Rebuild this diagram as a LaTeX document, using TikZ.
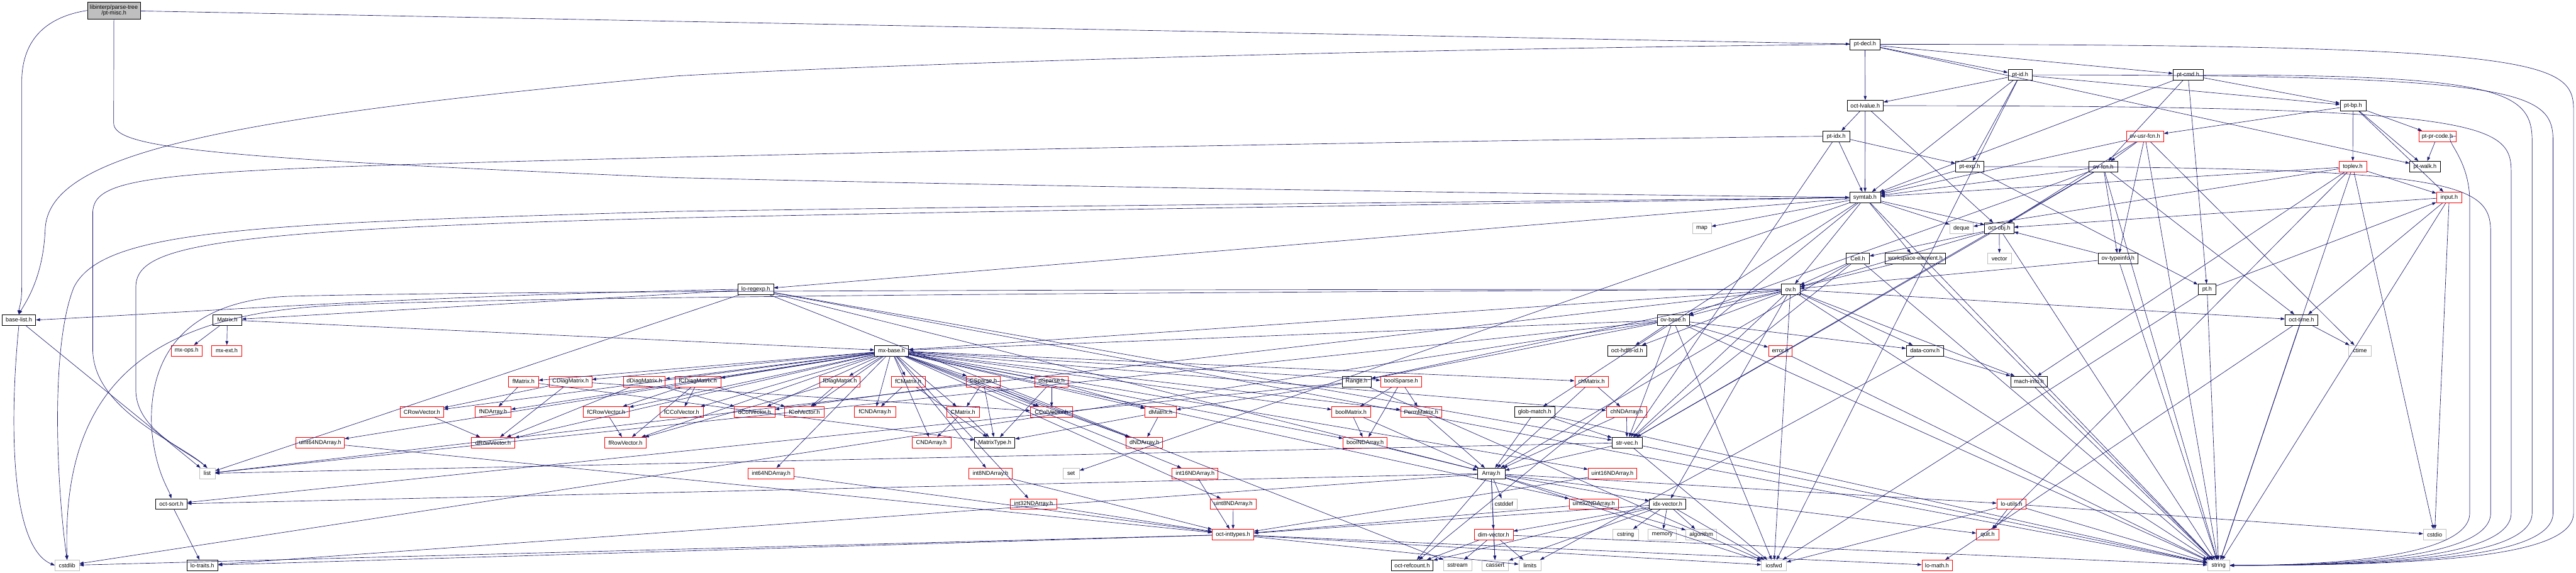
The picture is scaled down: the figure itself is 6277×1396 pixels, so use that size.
\documentclass[tikz,border=0pt]{standalone}
\usepackage{fontspec}
\setmainfont{Liberation Sans}
\usetikzlibrary{arrows.meta}
\definecolor{edgec}{RGB}{25,25,112}
\definecolor{extc}{RGB}{191,191,191}
\definecolor{rootfill}{RGB}{191,191,191}
\newcommand\gn[6]{\node[#1, minimum width={(#4-#3)*1pt}] (#2) at ({(#3+#4)/2},#5) {#6};}
\newcommand\lane[3]{\draw[edge] (#1.east) .. controls ({#2-80},#3) and (#2,{#3+40}) .. (#2,{#3+160}) -- (#2,1250) .. controls (#2,1350) and ({#2-300},1377.5) .. (string.east);}
\begin{document}
\begin{tikzpicture}[x=1pt,y=-1pt,
  base/.style={draw, inner sep=0pt, minimum height=26pt, line width=1pt, font=\fontsize{14}{15}\selectfont, align=center},
  blk/.style={base, draw=black},
  red/.style={base, draw=red},
  ext/.style={base, draw=extc},
  root/.style={base, draw=black, fill=rootfill, minimum height=41pt},
  edge/.style={draw=edgec, line width=1pt, -{Triangle[length=10pt,width=7pt]}}]
\useasboundingbox (0,0) rectangle (6277,1396);
% rank 0
\gn{root}{root}{213}{342}{25.5}{libinterp/parse-tree\\/pt-misc.h}
% rank 1-7
\gn{blk}{ptdecl}{4508}{4581}{108}{pt-decl.h}
\gn{blk}{ptid}{4893}{4952}{182.5}{pt-id.h}
\gn{blk}{ptcmd}{5295}{5368}{182.5}{pt-cmd.h}
\gn{blk}{octlvalue}{4501}{4589}{257.5}{oct-lvalue.h}
\gn{blk}{ptbp}{5702}{5765}{257.5}{pt-bp.h}
\gn{blk}{ptidx}{4442}{4507}{332}{pt-idx.h}
\gn{red}{ovusrfcn}{5181}{5272}{332}{ov-usr-fcn.h}
\gn{red}{ptprcode}{5894}{5984}{332}{pt-pr-code.h}
\gn{blk}{ptexp}{4765}{4834}{406}{pt-exp.h}
\gn{blk}{ovfcn}{5090}{5160}{406}{ov-fcn.h}
\gn{red}{toplev}{5699}{5767}{406}{toplev.h}
\gn{blk}{ptwalk}{5872}{5946}{406}{pt-walk.h}
\gn{blk}{symtab}{4507}{4582}{481}{symtab.h}
\gn{red}{input}{5937}{5999}{481}{input.h}
\gn{ext}{map}{4124}{4170}{556}{map}
\gn{ext}{deque}{4751}{4808}{556}{deque}
\gn{blk}{octobj}{4836}{4907}{556}{oct-obj.h}
% rank 8-11
\gn{blk}{cell}{4499}{4555}{630}{Cell.h}
\gn{blk}{wselem}{4594}{4740}{630}{workspace-element.h}
\gn{ext}{vector}{4843}{4901}{630}{vector}
\gn{blk}{ovtypeinfo}{5112}{5210}{630}{ov-typeinfo.h}
\gn{blk}{loregexp}{1798}{1885}{705}{lo-regexp.h}
\gn{blk}{ov}{4340}{4386}{705}{ov.h}
\gn{blk}{pt}{5356}{5400}{705}{pt.h}
\gn{blk}{baselist}{5}{87}{779.5}{base-list.h}
\gn{blk}{Matrixh}{519}{589}{779.5}{Matrix.h}
\gn{blk}{ovbase}{4038}{4116}{779.5}{ov-base.h}
\gn{blk}{octtime}{5568}{5648}{779.5}{oct-time.h}
\gn{red}{mxops}{417}{492}{854.5}{mx-ops.h}
\gn{red}{mxext}{516}{589}{854.5}{mx-ext.h}
\gn{blk}{mxbase}{2131}{2214}{854.5}{mx-base.h}
\gn{blk}{hdfid}{3918}{4012}{854.5}{oct-hdf5-id.h}
\gn{red}{error}{4309}{4367}{854.5}{error.h}
\gn{blk}{dataconv}{4645}{4736}{854.5}{data-conv.h}
\gn{ext}{ctime}{5723}{5778}{854.5}{ctime}
% rank 12
\gn{red}{fMatrix}{1239}{1312}{929.5}{fMatrix.h}
\gn{red}{CDiag}{1339}{1442}{929.5}{CDiagMatrix.h}
\gn{red}{dDiag}{1519}{1621}{929.5}{dDiagMatrix.h}
\gn{red}{fCDiag}{1645}{1756}{929.5}{fCDiagMatrix.h}
\gn{red}{fDiag}{1997}{2096}{929.5}{fDiagMatrix.h}
\gn{red}{fCMatrix}{2172}{2254}{929.5}{fCMatrix.h}
\gn{red}{CSparse}{2355}{2437}{929.5}{CSparse.h}
\gn{red}{dSparse}{2522}{2603}{929.5}{dSparse.h}
\gn{blk}{Range}{3270}{3341}{929.5}{Range.h}
\gn{red}{boolSparse}{3364}{3464}{929.5}{boolSparse.h}
\gn{red}{chMatrix}{3837}{3919}{929.5}{chMatrix.h}
\gn{blk}{machinfo}{4899}{4989}{929.5}{mach-info.h}
% rank 13
\gn{red}{CRowVec}{975}{1081}{1004}{CRowVector.h}
\gn{red}{fNDArray}{1158}{1245}{1004}{fNDArray.h}
\gn{red}{fCRowVec}{1421}{1533}{1004}{fCRowVector.h}
\gn{red}{fCColVec}{1608}{1714}{1004}{fCColVector.h}
\gn{red}{dColVec}{1789}{1888}{1004}{dColVector.h}
\gn{red}{fColVec}{1912}{2008}{1004}{fColVector.h}
\gn{red}{fCNDArray}{2082}{2182}{1004}{fCNDArray.h}
\gn{red}{CMatrix}{2307}{2386}{1004}{CMatrix.h}
\gn{red}{CColVec}{2511}{2614}{1004}{CColVector.h}
\gn{red}{dMatrix}{2790}{2866}{1004}{dMatrix.h}
\gn{red}{boolMatrix}{3245}{3339}{1004}{boolMatrix.h}
\gn{red}{PermMatrix}{3413}{3513}{1004}{PermMatrix.h}
\gn{blk}{globmatch}{3691}{3788}{1004}{glob-match.h}
\gn{red}{chNDArray}{3914}{4013}{1004}{chNDArray.h}
% rank 14
\gn{red}{uint64}{721}{839}{1078.5}{uint64NDArray.h}
\gn{red}{dRowVec}{1149}{1254}{1078.5}{dRowVector.h}
\gn{red}{fRowVec}{1473}{1575}{1078.5}{fRowVector.h}
\gn{red}{CNDArray}{2222}{2317}{1078.5}{CNDArray.h}
\gn{blk}{MatrixType}{2375}{2473}{1078.5}{MatrixType.h}
\gn{red}{dNDArray}{2744}{2833}{1078.5}{dNDArray.h}
\gn{red}{boolNDArray}{3273}{3380}{1078.5}{boolNDArray.h}
\gn{blk}{strvec}{3928}{4001}{1078.5}{str-vec.h}
% rank 15
\gn{ext}{list}{486}{524}{1153.5}{list}
\gn{red}{int64}{1823}{1935}{1153.5}{int64NDArray.h}
\gn{red}{int8}{2361}{2466}{1153.5}{int8NDArray.h}
\gn{ext}{set}{2590}{2630}{1153.5}{set}
\gn{red}{int16}{2856}{2968}{1153.5}{int16NDArray.h}
\gn{blk}{Array}{3600}{3667}{1153.5}{Array.h}
\gn{red}{uint16}{3870}{3988}{1153.5}{uint16NDArray.h}
% rank 16
\gn{blk}{octsort}{379}{456}{1228}{oct-sort.h}
\gn{red}{int32}{2462}{2575}{1228}{int32NDArray.h}
\gn{red}{uint8}{2949}{3061}{1228}{uint8NDArray.h}
\gn{ext}{cstddef}{3632}{3697}{1228}{cstddef}
\gn{red}{uint32}{3824}{3943}{1228}{uint32NDArray.h}
\gn{blk}{idxvec}{4019}{4108}{1228}{idx-vector.h}
\gn{red}{loutils}{4866}{4937}{1228}{lo-utils.h}
% rank 17
\gn{red}{octint}{2954}{3055}{1302.5}{oct-inttypes.h}
\gn{red}{dimvec}{3592}{3687}{1302.5}{dim-vector.h}
\gn{ext}{cstring}{3930}{3992}{1302.5}{cstring}
\gn{ext}{memory}{4016}{4085}{1302.5}{memory}
\gn{ext}{algorithm}{4108}{4183}{1302.5}{algorithm}
\gn{red}{quit}{4816}{4871}{1302.5}{quit.h}
\gn{ext}{cstdio}{5905}{5960}{1302.5}{cstdio}
% rank 18
\gn{ext}{cstdlib}{134}{193}{1377.5}{cstdlib}
\gn{blk}{lotraits}{455}{531}{1377.5}{lo-traits.h}
\gn{blk}{octref}{3390}{3492}{1377.5}{oct-refcount.h}
\gn{ext}{sstream}{3517}{3586}{1377.5}{sstream}
\gn{ext}{cassert}{3611}{3676}{1377.5}{cassert}
\gn{ext}{limits}{3701}{3755}{1377.5}{limits}
\gn{ext}{iosfwd}{4292}{4353}{1377.5}{iosfwd}
\gn{red}{lomath}{4683}{4757}{1377.5}{lo-math.h}
\gn{ext}{string}{5379}{5433}{1377.5}{string}
% routed edges on the left
\draw[edge] (root.west) .. controls (120,40) and (53,90) .. (53,200) -- (53,700) .. controls (53,740) and (46,750) .. (baselist.north);
\draw[edge] (root.south) -- (277,300) .. controls (277,360) and (500,385) .. (1650,433) .. controls (2700,458) and (3900,474) .. (symtab.west);
\draw[edge] (ptdecl.west) .. controls (3000,125) and (2000,165) .. (1650,185) .. controls (500,290) and (116,380) .. (110,560) .. controls (105,680) and (60,740) .. (baselist.north);
\draw[edge] (loregexp.west) .. controls (1000,720) and (400,765) .. (baselist.east);
\draw[edge] (ptidx.west) .. controls (3000,350) and (2000,375) .. (1650,383) .. controls (400,415) and (226,420) .. (226,520) -- (226,850) .. controls (226,1000) and (440,1080) .. (list.north);
\draw[edge] (symtab.west) .. controls (3900,495) and (2700,507) .. (1650,531) .. controls (500,560) and (331,600) .. (331,700) -- (331,950) .. controls (331,1050) and (460,1100) .. (list.north);
\draw[edge] (symtab.west) .. controls (3900,490) and (2700,499) .. (1650,515) .. controls (600,545) and (250,560) .. (180,700) .. controls (120,850) and (140,1200) .. (cstdlib.north);
\draw[edge] (ov.west) .. controls (3000,705) and (1200,708) .. (700,722) .. controls (420,735) and (360,900) .. (370,1050) .. controls (380,1150) and (410,1190) .. (octsort.north);
\draw[edge] (ov.west) .. controls (3000,712) and (1200,722) .. (800,745) .. controls (350,770) and (150,950) .. (cstdlib.north);
\draw[edge] (baselist.south) .. controls (25,1000) and (20,1330) .. (cstdlib.west);
% right-hand lanes into string
\lane{ptdecl}{6271}{108}
\lane{ptid}{6221}{182.5}
\lane{ptcmd}{6170}{182.5}
\lane{octlvalue}{6119}{257.5}
\lane{ptexp}{6069}{406}
\lane{ptprcode}{6018}{332}
% straight edges
\foreach \a/\b in {root/ptdecl,
 ptdecl/octlvalue, ptdecl/ptcmd, ptdecl/ptid, ptdecl/ptwalk,
 ptid/octlvalue, ptid/ptbp, ptid/ptexp, ptid/symtab, ptid/iosfwd,
 ptcmd/pt, ptcmd/ptbp, ptcmd/symtab, ptcmd/ovfcn,
 octlvalue/octobj, octlvalue/ptidx, octlvalue/symtab,
 ptbp/input, ptbp/ovusrfcn, ptbp/ptwalk, ptbp/ptprcode, ptbp/toplev,
 ptidx/ptexp, ptidx/strvec, ptidx/symtab,
 ptexp/pt, ptexp/symtab,
 ovusrfcn/ctime, ovusrfcn/string, ovusrfcn/octobj, ovusrfcn/ovfcn, ovusrfcn/ovtypeinfo, ovusrfcn/symtab,
 ovfcn/string, ovfcn/octtime, ovfcn/strvec, ovfcn/octobj, ovfcn/ovbase, ovfcn/ovtypeinfo, ovfcn/symtab,
 toplev/cstdio, toplev/deque, toplev/string, toplev/machinfo, toplev/quit, toplev/input, toplev/symtab,
 ptprcode/ptwalk,
 input/cstdio, input/string, input/octtime, input/octobj,
 symtab/deque, symtab/map, symtab/set, symtab/string, symtab/globmatch, symtab/loregexp, symtab/octobj, symtab/wselem, symtab/octref, symtab/ov,
 octobj/string, octobj/vector, octobj/strvec, octobj/cell, octobj/ov,
 cell/string, cell/Array, cell/strvec, cell/ov,
 wselem/string, wselem/ov,
 ovtypeinfo/string, ovtypeinfo/octobj, ovtypeinfo/ov,
 pt/string, pt/iosfwd, pt/input,
 ov/iosfwd, ov/string, ov/Range, ov/dataconv, ov/idxvec, ov/machinfo, ov/mxbase, ov/octtime, ov/strvec, ov/ovbase, ov/hdfid, ov/list,
 ovbase/iosfwd, ovbase/string, ovbase/Range, ovbase/dataconv, ovbase/mxbase, ovbase/strvec, ovbase/error, ovbase/hdfid, ovbase/list, ovbase/cstdlib,
 octtime/ctime, octtime/string, octtime/lomath,
 machinfo/string, dataconv/limits, dataconv/machinfo, error/string,
 loregexp/sstream, loregexp/string, loregexp/Array, loregexp/strvec, loregexp/list, loregexp/Matrixh,
 baselist/list, Matrixh/mxops, Matrixh/mxext, Matrixh/mxbase,
 globmatch/string, globmatch/Array, globmatch/strvec,
 strvec/iosfwd, strvec/string, strvec/Array, strvec/list,
 Range/iosfwd, Range/dMatrix, Range/octsort,
 Array/cassert, Array/cstddef, Array/algorithm, Array/iosfwd, Array/dimvec, Array/idxvec, Array/loutils, Array/quit, Array/octref, Array/octsort, Array/lotraits,
 octsort/lotraits,
 idxvec/cassert, idxvec/cstring, idxvec/algorithm, idxvec/iosfwd, idxvec/memory, idxvec/dimvec, idxvec/octint, idxvec/octref,
 dimvec/cassert, dimvec/limits, dimvec/sstream, dimvec/string, dimvec/octref,
 loutils/cstdio, loutils/iosfwd, loutils/string, loutils/quit,
 octint/limits, octint/iosfwd, octint/lomath, octint/lotraits, octint/cstdlib,
 mxbase/dDiag, mxbase/fCDiag, mxbase/fDiag, mxbase/fCMatrix, mxbase/CSparse, mxbase/dSparse, mxbase/boolSparse, mxbase/chMatrix,
 mxbase/fCColVec, mxbase/dColVec, mxbase/fColVec, mxbase/fCNDArray, mxbase/CMatrix, mxbase/CColVec, mxbase/dMatrix, mxbase/boolMatrix, mxbase/PermMatrix, mxbase/chNDArray,
 mxbase/CNDArray, mxbase/dNDArray, mxbase/boolNDArray, mxbase/int64, mxbase/int8, mxbase/int16, mxbase/int32, mxbase/uint8, mxbase/uint16, mxbase/uint32,
 mxbase/fMatrix, mxbase/CDiag, mxbase/dRowVec, mxbase/CRowVec, mxbase/fCRowVec, mxbase/fRowVec, mxbase/fNDArray, mxbase/uint64,
 dDiag/dColVec, dDiag/dRowVec, CDiag/CRowVec, CDiag/dRowVec, CDiag/CColVec, CRowVec/dRowVec,
 fCDiag/fCColVec, fCDiag/fColVec, fCDiag/fCRowVec, fCDiag/fRowVec,
 fDiag/fColVec, fDiag/fRowVec, fCRowVec/fRowVec, fMatrix/fNDArray, fMatrix/MatrixType,
 fCMatrix/fCNDArray, fCMatrix/MatrixType,
 CSparse/CMatrix, CSparse/CColVec, CSparse/dColVec, CSparse/MatrixType, CSparse/dNDArray,
 dSparse/CColVec, dSparse/dMatrix, dSparse/MatrixType,
 boolSparse/boolMatrix, boolSparse/PermMatrix, boolSparse/boolNDArray,
 CMatrix/CNDArray, CMatrix/MatrixType, dMatrix/MatrixType, dMatrix/dNDArray,
 chMatrix/chNDArray, chMatrix/Array, boolMatrix/boolNDArray, boolMatrix/Array, PermMatrix/Array,
 chNDArray/Array, chNDArray/strvec, boolNDArray/Array,
 int64/octint, int8/octint, int16/octint, int32/octint, uint8/octint, uint16/octint, uint32/octint, uint64/octint}
 \draw[edge] (\a) -- (\b);
\end{tikzpicture}
\end{document}
